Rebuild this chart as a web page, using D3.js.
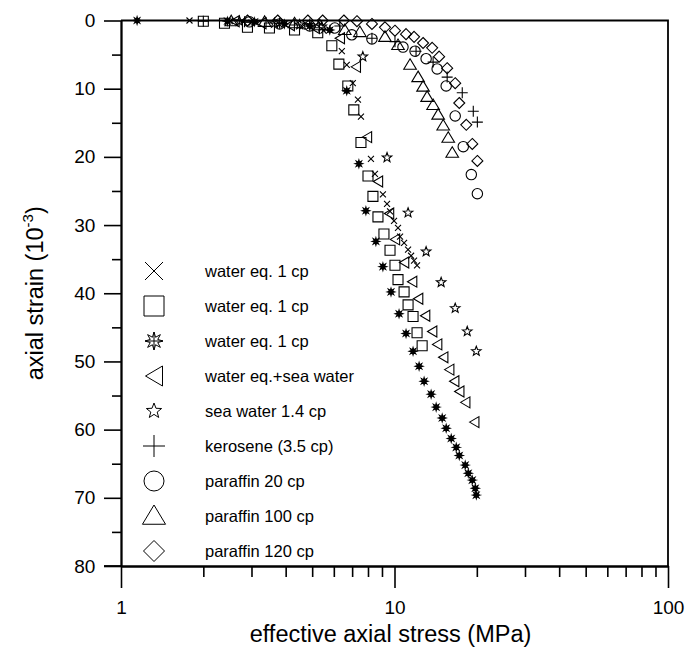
<!DOCTYPE html>
<html><head><meta charset="utf-8">
<script src="https://cdn.jsdelivr.net/npm/d3@7"></script>
<style>body{margin:0;background:#fff} text{font-family:Arial,"Liberation Sans",sans-serif;fill:#000}</style>
</head><body><svg id="c" width="688" height="648"></svg>
<script>
// ---------- data ----------
const seriesNames = ["water eq. 1 cp","water eq. 1 cp","water eq. 1 cp","water eq.+sea water","sea water 1.4 cp","kerosene (3.5 cp)","paraffin 20 cp","paraffin 100 cp","paraffin 120 cp"];
const seriesShapes = ["cross","square","burst","triLeft","star","plus","circle","triUp","diamond"];

const crossX = [1.78,2.5,3.0,3.8,4.6,5.5,6.42,6.69,7.04,7.35,7.54,8.20,8.48,9.07,9.39,9.63,9.96,10.30,10.48,10.84,11.21,11.50,11.79,12.09];
const crossY = [0,0.1,0.3,0.6,0.9,1.5,4.5,6.5,9.2,11.6,14.1,20.3,22.5,25.5,26.9,28.0,29.4,30.4,31.7,32.6,33.6,34.5,35.2,35.9];

const squareX = [2.00,2.39,2.90,3.49,4.31,5.24,5.90,6.26,6.75,7.10,7.54,8.00,8.34,8.70,9.15,9.63,10.04,10.30,10.84,11.21,11.69,12.09,12.62];
const squareY = [0.1,0.4,1.0,1.1,1.4,1.8,3.7,6.4,9.6,13.1,17.9,22.8,25.8,28.8,31.3,33.7,35.9,38.0,39.8,41.7,43.4,45.8,47.7];

const burstX = [1.145,2.45,3.08,3.96,4.90,5.80,6.69,7.41,7.86,8.55,9.07,9.71,10.39,11.02,11.69,12.30,12.83,13.61,14.20,14.94,15.45,16.12,16.82,17.25,18.14,18.61,19.25,19.74,19.91];
const burstY = [0,0.1,0.2,0.5,0.8,1.4,10.3,21.0,27.9,32.4,36.1,39.8,43.0,45.9,48.5,50.7,52.9,54.8,56.7,58.3,59.8,61.3,62.6,63.8,65.2,66.4,67.4,68.6,69.6];

const triLeftX = [2.60,3.26,4.14,5.11,6.31,7.22,7.93,8.70,9.55,10.04,10.84,11.60,12.20,12.94,13.73,14.32,15.07,15.85,16.53,17.25,18.14,19.57];
const triLeftY = [0.1,0.4,0.7,1.1,2.6,6.8,17.1,23.6,28.3,32.1,35.5,38.3,40.8,43.3,45.6,47.5,49.4,51.2,52.9,54.4,56.0,58.9];

const starX = [2.71,3.64,4.50,5.42,7.66,9.39,11.21,13.05,14.81,16.67,18.45,19.91];
const starY = [0.1,0.4,0.6,0.9,5.3,20.1,28.2,33.9,38.4,42.2,45.6,48.5];

const plusX = [2.00,2.83,3.80,4.90,6.31,8.27,10.04,11.99,13.84,15.58,17.69,19.41,20.09];
const plusY = [0.1,0.2,0.4,0.5,0.8,2.6,3.1,4.5,6.1,8.3,10.6,13.3,14.9];

const circleX = [2.95,3.80,4.90,6.05,6.98,8.27,10.74,11.89,13.05,14.32,15.45,16.67,17.84,19.09,20.09];
const circleY = [0.2,0.5,0.8,1.1,2.1,2.7,3.9,4.5,5.6,7.1,9.6,14.0,18.5,22.6,25.4];

const triUpX = [2.53,3.35,4.31,5.33,6.58,7.47,9.23,10.30,11.40,12.20,12.72,13.16,13.84,14.44,15.07,15.72,16.26];
const triUpY = [0.1,0.2,0.4,0.7,1.4,1.7,2.4,3.6,6.5,8.3,9.7,11.2,12.4,13.8,15.4,17.2,19.4];

const diamondX = [2.90,3.74,4.82,5.46,6.53,7.29,8.27,9.23,10.04,11.02,11.79,12.72,13.73,14.56,15.58,16.67,17.25,18.30,19.25,20.09];
const diamondY = [0,0,0,0,0,0.1,0.5,1.0,1.5,2.0,2.4,3.3,4.0,5.3,7.0,9.2,12.1,15.3,18.1,20.6];

const xTickLabels = [1,10,100];
const xMinorTicks = [2,3,4,5,6,7,8,9,20,30,40,50,60,70,80,90];
const yTickLabels = [0,10,20,30,40,50,60,70,80];
const yMinorTicks = [5,15,25,35,45,55,65,75];

const seriesX = [crossX,squareX,burstX,triLeftX,starX,plusX,circleX,triUpX,diamondX];
const seriesY = [crossY,squareY,burstY,triLeftY,starY,plusY,circleY,triUpY,diamondY];

// ---------- layout ----------
const L = 121, R = 668, T = 20.5, B = 566;
const svg = d3.select("#c");
const x = d3.scaleLog().domain([1,100]).range([L,R]);
const y = d3.scaleLinear().domain([0,80]).range([T,B]);

function shapePath(kind, s){
  switch(kind){
    case "cross": return `M${-s},${-s}L${s},${s}M${-s},${s}L${s},${-s}`;
    case "square": return `M${-s},${-s}H${s}V${s}H${-s}Z`;
    case "burst": {
      let p=""; const n=8;
      for(let i=0;i<2*n;i++){const r=i%2?s*0.45:s; const a=Math.PI*i/n - Math.PI/2; p+=(i?"L":"M")+(r*Math.cos(a)).toFixed(2)+","+(r*Math.sin(a)).toFixed(2);}
      return p+"Z"+`M${-s},0H${s}M0,${-s}V${s}`;
    }
    case "triLeft": return `M${-s*0.85},0L${s*0.85},${-s}L${s*0.85},${s}Z`;
    case "star": {
      let p="";
      for(let i=0;i<10;i++){const r=i%2?s*0.42:s; const a=Math.PI*i/5 - Math.PI/2; p+=(i?"L":"M")+(r*Math.cos(a)).toFixed(2)+","+(r*Math.sin(a)).toFixed(2);}
      return p+"Z";
    }
    case "plus": return `M${-s},0H${s}M0,${-s}V${s}`;
    case "circle": return `M${s},0A${s},${s} 0 1 1 ${-s},0A${s},${s} 0 1 1 ${s},0Z`;
    case "triUp": return `M0,${-s}L${s*1.05},${s*0.75}L${-s*1.05},${s*0.75}Z`;
    case "diamond": return `M0,${-s}L${s},0L0,${s}L${-s},0Z`;
  }
}
const dataSize = {cross:3,square:5,burst:3.8,triLeft:5.5,star:5,plus:5.5,circle:5.2,triUp:6,diamond:5.5};
const legSize = {cross:9,square:10,burst:9,triLeft:10,star:8,plus:11,circle:10,triUp:11,diamond:10.5};
const FONT = "Arial, 'Liberation Sans', sans-serif";

// ---------- axes ----------
svg.append("path").attr("d",`M${L},${T}H${R}V${B}`).attr("fill","none").attr("stroke","#000").attr("stroke-width",1.8);

const xMaj = d3.axisBottom(x).tickValues(xTickLabels).tickSize(22).tickFormat(d3.format("d")).tickSizeOuter(0);
const xMin = d3.axisBottom(x).tickValues(xMinorTicks).tickSize(11).tickFormat("").tickSizeOuter(0);
const gxm = svg.append("g").attr("transform",`translate(0,${B})`).call(xMin);
const gx = svg.append("g").attr("transform",`translate(0,${B})`).call(xMaj);
const yMaj = d3.axisLeft(y).tickValues(yTickLabels).tickSize(17).tickSizeOuter(0);
const yMin = d3.axisLeft(y).tickValues(yMinorTicks).tickSize(9).tickFormat("").tickSizeOuter(0);
const gym = svg.append("g").attr("transform",`translate(${L},0)`).call(yMin);
const gy = svg.append("g").attr("transform",`translate(${L},0)`).call(yMaj);
[gx,gxm,gy,gym].forEach(g=>{
  g.selectAll("path.domain").attr("stroke","#000").attr("stroke-width",1.8);
  g.selectAll(".tick line").attr("stroke","#000").attr("stroke-width",1.6);
});
gx.selectAll(".tick text").attr("font-size",19).attr("font-family",FONT).attr("dy","1.2em");
gy.selectAll(".tick text").attr("font-size",19).attr("font-family",FONT).attr("dx","-0.3em");
svg.append("line").attr("x1",L-17).attr("x2",L).attr("y1",B).attr("y2",B).attr("stroke","#000").attr("stroke-width",1.8);

// titles
svg.append("text").attr("x",(L+R)/2 - 4).attr("y",642).attr("text-anchor","middle").attr("font-size",23.5).text("effective axial stress (MPa)");
const yt = svg.append("text").attr("transform",`translate(43,${(T+B)/2}) rotate(-90)`).attr("text-anchor","middle").attr("font-size",23.5);
yt.append("tspan").text("axial strain (10");
yt.append("tspan").attr("font-size",15).attr("dy",-10).text("-3");
yt.append("tspan").attr("dy",10).text(")");

// ---------- data marks ----------
const plot = svg.append("g");
seriesShapes.forEach((shape,i)=>{
  const pts = seriesX[i].map((v,j)=>[v,seriesY[i][j]]);
  const filled = shape==="burst";
  plot.append("g").selectAll("path").data(pts).join("path")
    .attr("transform",d=>`translate(${x(d[0])},${y(d[1])})`)
    .attr("d",shapePath(shape,dataSize[shape]))
    .attr("fill",filled?"#000":"none")
    .attr("stroke","#000")
    .attr("stroke-width",1.1);
});

// ---------- legend ----------
const leg = svg.append("g");
seriesNames.forEach((name,i)=>{
  const cy = 271 + i*35;
  const shape = seriesShapes[i];
  leg.append("path").attr("transform",`translate(154,${cy})`).attr("d",shapePath(shape,legSize[shape]))
    .attr("fill","none").attr("stroke","#000").attr("stroke-width",1);
  leg.append("text").attr("x",205).attr("y",cy+6).attr("font-size",16.5).text(name);
});
</script></body></html>
